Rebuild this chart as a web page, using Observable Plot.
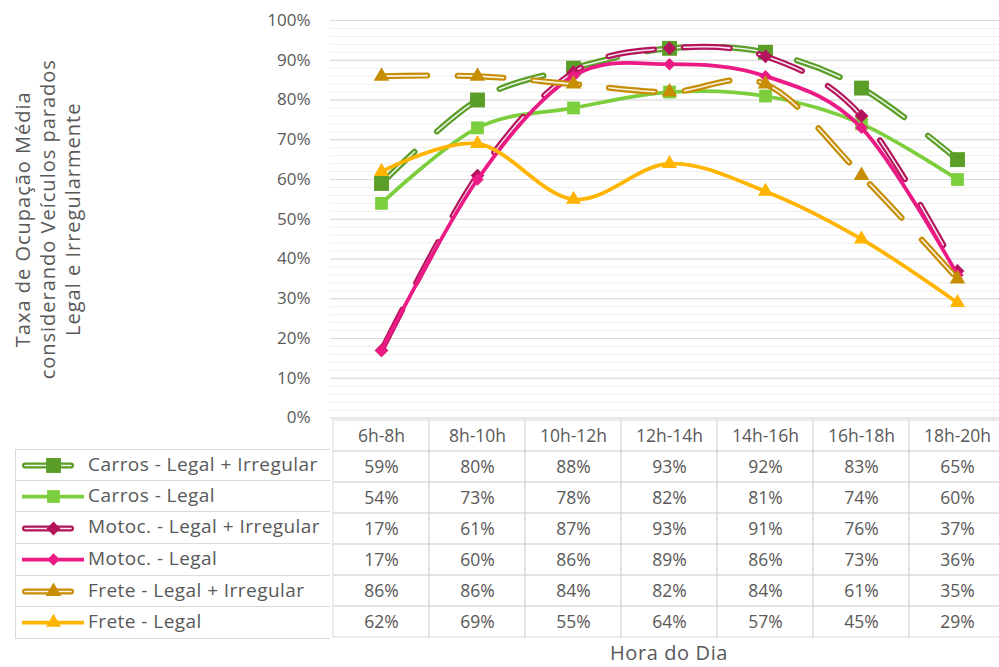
<!DOCTYPE html>
<html>
<head>
<meta charset="utf-8">
<script src="https://cdn.jsdelivr.net/npm/d3@7"></script>
<script src="https://cdn.jsdelivr.net/npm/@observablehq/plot@0.6"></script>
<style>
  body { margin: 0; background: #fff; }
  #wrap { position: relative; width: 999px; height: 667px; overflow: hidden; background: #fff;
          font-family: "Open Sans", "DejaVu Sans", sans-serif; color: #595959; }
  #chart, #table { position: absolute; left: 0; }
  #chart { top: 0; }
  #table { top: 417px; }
  #chart g[aria-label="text"] text { letter-spacing: 1px; }
  #legend { position: absolute; left: 15px; top: 449px; width: 315px; border-left: 1px solid #d9d9d9; box-sizing: border-box; }
  .lrow { position: relative; height: 31.64px; border-bottom: 1px solid #d9d9d9; box-sizing: border-box; }
  .lrow:first-child { border-top: 1px solid #d9d9d9; }
  .lrow svg { position: absolute; left: 6px; top: 50%; transform: translateY(-50%); }
  .lrow span { position: absolute; left: 72px; top: 0; line-height: 29px; font-size: 19px; letter-spacing: 0.45px; white-space: nowrap; }
  #xtitle { position: absolute; left: 330px; width: 678px; top: 639px; text-align: center; font-size: 20px; letter-spacing: 0.6px; }
</style>
</head>
<body>
<div id="wrap">
  <div id="chart"></div>
  <div id="table"></div>
  <div id="legend"></div>
  <div id="xtitle">Hora do Dia</div>
</div>
<script>
// ---- data ----
const categories = ["6h-8h", "8h-10h", "10h-12h", "12h-14h", "14h-16h", "16h-18h", "18h-20h"];
const seriesNames = [
  "Carros - Legal + Irregular",
  "Carros - Legal",
  "Motoc. - Legal + Irregular",
  "Motoc. - Legal",
  "Frete - Legal + Irregular",
  "Frete - Legal"
];
const carrosLI = [0.59, 0.80, 0.88, 0.93, 0.92, 0.83, 0.65];
const carrosL  = [0.54, 0.73, 0.78, 0.82, 0.81, 0.74, 0.60];
const motocLI  = [0.17, 0.61, 0.87, 0.93, 0.91, 0.76, 0.37];
const motocL   = [0.17, 0.60, 0.86, 0.89, 0.86, 0.73, 0.36];
const freteLI  = [0.86, 0.86, 0.84, 0.82, 0.84, 0.61, 0.35];
const freteL   = [0.62, 0.69, 0.55, 0.64, 0.57, 0.45, 0.29];
const yTicks = [0, 0.1, 0.2, 0.3, 0.4, 0.5, 0.6, 0.7, 0.8, 0.9, 1.0];
const yMinorTicks = d3.range(0, 1.0001, 0.02);
const yTitle = "Taxa de Ocupação Média\nconsiderando Veículos parados\nLegal e Irregularmente";

// ---- styles ----
const seriesValues = [carrosLI, carrosL, motocLI, motocL, freteLI, freteL];
const styles = [
  {color: "#5a9e28", dashed: true,  symbol: "square",   r: 8.4},
  {color: "#7dce3c", dashed: false, symbol: "square",   r: 7.2},
  {color: "#b3145c", dashed: true,  symbol: "diamond2", r: 6.2},
  {color: "#ec1a84", dashed: false, symbol: "diamond2", r: 5.6},
  {color: "#c68d05", dashed: true,  symbol: "triangle", r: 5.8},
  {color: "#ffb400", dashed: false, symbol: "triangle", r: 5.6}
];
const DASH = "46,30";
const textColor = "#595959";
const font = '"Open Sans", "DejaVu Sans", sans-serif';

const series = seriesNames.map((name, k) => ({
  name, ...styles[k],
  rows: categories.map((c, i) => ({series: name, cat: c, v: seriesValues[k][i]}))
}));

// ---- chart ----
const lineMarks = series.flatMap(s => {
  const m = [];
  if (s.dashed) {
    m.push(Plot.line(s.rows, {x: "cat", y: "v", stroke: s.color, strokeWidth: 6, strokeDasharray: DASH, strokeLinecap: "round", curve: "cardinal"}));
    m.push(Plot.line(s.rows, {x: "cat", y: "v", stroke: "white", strokeOpacity: 0.9, strokeWidth: 1.6, strokeDasharray: DASH, strokeLinecap: "round", curve: "cardinal"}));
  } else {
    m.push(Plot.line(s.rows, {x: "cat", y: "v", stroke: s.color, strokeWidth: 3.75, strokeLinecap: "round", curve: "cardinal"}));
  }
  m.push(Plot.dot(s.rows, {x: "cat", y: "v", symbol: s.symbol, r: s.r, fill: s.color, stroke: null}));
  return m;
});

const chart = Plot.plot({
  width: 1008, height: 448,
  marginLeft: 330, marginRight: 0, marginTop: 20, marginBottom: 30.5,
  style: {fontFamily: font, color: textColor, background: "transparent", maxWidth: "none", overflow: "visible"},
  x: {type: "point", domain: categories, padding: 0.5, axis: null},
  y: {domain: [0, 1], axis: null},
  marks: [
    Plot.ruleY(yMinorTicks, {stroke: "#eeeeee", strokeWidth: 1}),
    Plot.ruleY(yTicks, {stroke: "#d9d9d9", strokeWidth: 1}),
    Plot.axisY(yTicks, {tickFormat: d3.format(".0%"), tickSize: 0, tickPadding: 20, fontSize: 17, fill: textColor, label: null}),
    Plot.text([yTitle], {frameAnchor: "left", textAnchor: "middle", rotate: -90, dx: -284, fontSize: 20, lineHeight: 1.25, fill: textColor}),
    ...lineMarks
  ]
});
document.getElementById("chart").append(chart);

// ---- data table ----
const HEADER = "__header";
const headerCells = categories.map(c => ({cat: c, series: HEADER, label: c}));
const valueCells = series.flatMap(s => s.rows.map(r => ({cat: r.cat, series: s.name, label: d3.format(".0%")(r.v)})));
const table = Plot.plot({
  width: 1008, height: 223,
  marginLeft: 330, marginRight: 0, marginTop: 0.5, marginBottom: 1,
  style: {fontFamily: font, color: textColor, background: "transparent", maxWidth: "none"},
  x: {type: "band", domain: categories, padding: 0, axis: null},
  y: {type: "band", domain: [HEADER, ...seriesNames], padding: 0, axis: null},
  marks: [
    Plot.cell([...headerCells, ...valueCells], {x: "cat", y: "series", fill: "none", stroke: "#d9d9d9", inset: 0}),
    Plot.text([...headerCells, ...valueCells], {x: "cat", y: "series", text: "label", fontSize: 17.5, fill: textColor})
  ]
});
document.getElementById("table").append(table);

// ---- legend keys ----
const legend = document.getElementById("legend");
series.forEach(s => {
  const row = document.createElement("div");
  row.className = "lrow";
  const pad = s.dashed ? 3 : 0;
  const key = Plot.plot({
    width: 62, height: 20, margin: 0, marginLeft: pad, marginRight: pad,
    style: {background: "transparent", maxWidth: "none"},
    x: {domain: [0, 1], axis: null},
    y: {domain: [-1, 1], axis: null},
    marks: [
      Plot.ruleY([0], {stroke: s.color, strokeWidth: s.dashed ? 6 : 3.75, strokeDasharray: s.dashed ? DASH : null, strokeLinecap: s.dashed ? "round" : "butt"}),
      s.dashed ? Plot.ruleY([0], {stroke: "white", strokeOpacity: 0.9, strokeWidth: 1.6, strokeDasharray: DASH, strokeLinecap: "round"}) : null,
      Plot.dot([0.5], {x: d => d, y: () => 0, symbol: s.symbol, r: s.r, fill: s.color, stroke: null})
    ]
  });
  row.append(key);
  const label = document.createElement("span");
  label.textContent = s.name;
  row.append(label);
  legend.append(row);
});
</script>
</body>
</html>
